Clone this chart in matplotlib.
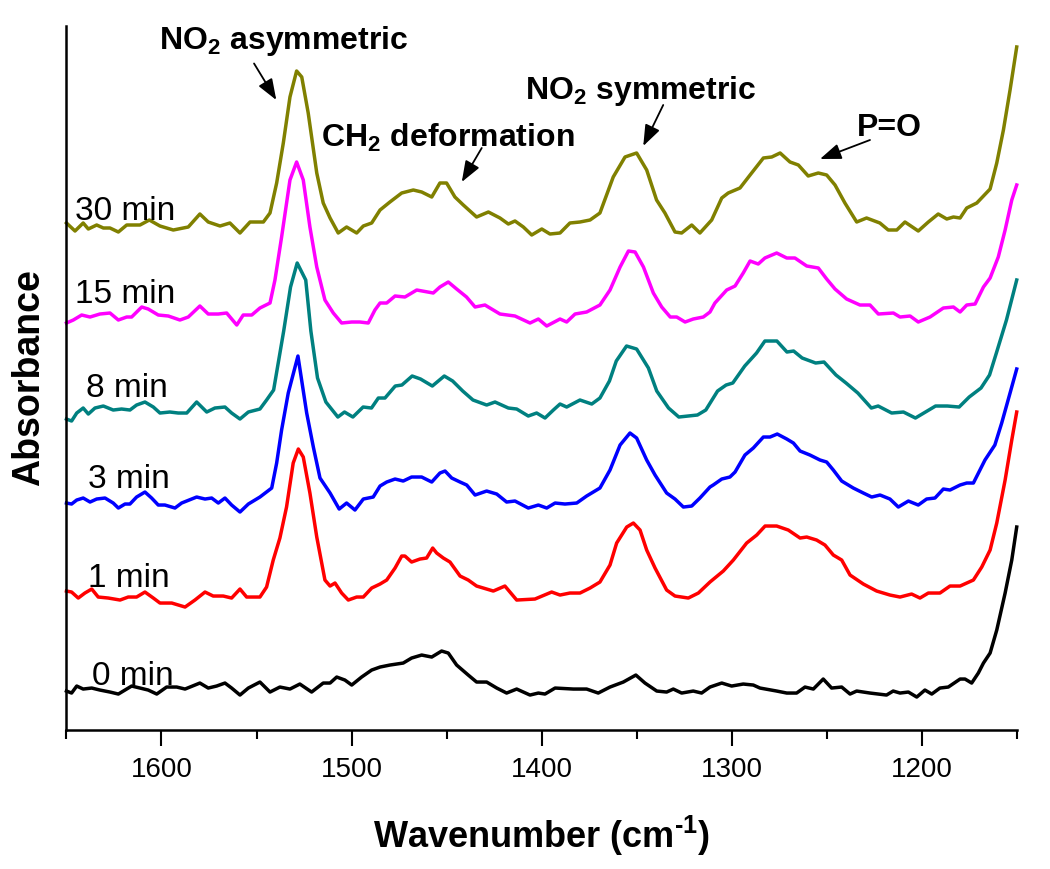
import matplotlib
matplotlib.use("Agg")
import matplotlib.pyplot as plt
from matplotlib.ticker import MultipleLocator

plt.rcParams['font.family'] = ['Liberation Sans', 'DejaVu Sans']
plt.rcParams['mathtext.fontset'] = 'custom'
plt.rcParams['mathtext.rm'] = 'Liberation Sans:bold'
plt.rcParams['mathtext.bf'] = 'Liberation Sans:bold'
plt.rcParams['mathtext.it'] = 'Liberation Sans:italic'

# ---------------- data (wavenumber cm^-1, absorbance a.u., offset-stacked) ----------------
wn_0 = [1650.0, 1647.3, 1644.6, 1641.2, 1636.7, 1632.4, 1627.1, 1622.7, 1615.7, 1611.3, 1607.0, 1602.5,
        1597.3, 1592.0, 1587.6, 1579.8, 1575.4, 1571.0, 1566.6, 1563.1, 1558.7, 1554.3, 1548.2, 1542.9,
        1537.7, 1532.4, 1527.2, 1521.0, 1514.9, 1511.3, 1507.8, 1503.5, 1499.9, 1494.7, 1489.4, 1485.0,
        1479.8, 1472.8, 1468.4, 1463.1, 1457.8, 1452.6, 1449.1, 1444.7, 1438.6, 1434.2, 1428.9, 1423.6,
        1418.4, 1413.1, 1406.1, 1401.7, 1398.2, 1392.9, 1383.3, 1376.3, 1370.2, 1364.0, 1357.0, 1350.4,
        1345.6, 1339.4, 1334.2, 1330.7, 1326.3, 1320.2, 1315.8, 1311.4, 1305.2, 1300.0, 1293.9, 1288.6,
        1285.1, 1276.3, 1271.0, 1265.8, 1261.4, 1257.0, 1251.8, 1247.4, 1242.1, 1237.7, 1234.2, 1227.2,
        1218.5, 1215.0, 1211.4, 1207.0, 1202.6, 1198.3, 1194.7, 1190.4, 1186.0, 1179.8, 1177.2, 1173.7,
        1170.2, 1167.5, 1164.0, 1160.5, 1156.1, 1152.6, 1150.0]
abs_0 = [0.039, 0.037, 0.044, 0.041, 0.042, 0.040, 0.038, 0.036, 0.044, 0.042, 0.040, 0.036,
         0.043, 0.043, 0.041, 0.047, 0.042, 0.044, 0.047, 0.042, 0.035, 0.042, 0.048, 0.038,
         0.043, 0.041, 0.046, 0.038, 0.047, 0.047, 0.053, 0.050, 0.045, 0.053, 0.060, 0.063,
         0.065, 0.067, 0.072, 0.075, 0.073, 0.079, 0.077, 0.065, 0.055, 0.048, 0.048, 0.042,
         0.037, 0.041, 0.035, 0.037, 0.036, 0.042, 0.041, 0.041, 0.037, 0.043, 0.048, 0.055,
         0.047, 0.039, 0.038, 0.041, 0.037, 0.039, 0.037, 0.043, 0.047, 0.044, 0.046, 0.045,
         0.042, 0.039, 0.037, 0.037, 0.043, 0.041, 0.051, 0.042, 0.043, 0.036, 0.039, 0.037,
         0.035, 0.039, 0.037, 0.038, 0.033, 0.040, 0.036, 0.042, 0.043, 0.051, 0.051, 0.047,
         0.057, 0.067, 0.077, 0.100, 0.137, 0.170, 0.203]

wn_1 = [1650.0, 1647.3, 1643.8, 1640.3, 1636.7, 1633.3, 1628.0, 1621.8, 1617.5, 1613.1, 1608.7, 1604.3,
        1600.8, 1594.6, 1587.6, 1582.4, 1577.1, 1572.8, 1567.5, 1563.1, 1558.7, 1555.2, 1548.2, 1544.7,
        1541.2, 1537.7, 1534.2, 1530.7, 1528.0, 1525.4, 1521.9, 1518.3, 1514.0, 1511.3, 1508.7, 1505.2,
        1501.7, 1497.3, 1493.8, 1489.4, 1485.0, 1481.5, 1477.1, 1473.6, 1471.9, 1468.4, 1464.0, 1460.5,
        1457.3, 1455.2, 1451.7, 1448.2, 1442.9, 1438.6, 1434.2, 1425.4, 1419.3, 1413.1, 1403.5, 1394.7,
        1390.3, 1385.1, 1379.8, 1374.5, 1369.3, 1364.0, 1360.5, 1355.2, 1351.7, 1348.2, 1344.7, 1340.3,
        1334.2, 1329.8, 1322.8, 1317.5, 1311.4, 1304.4, 1299.1, 1292.1, 1286.8, 1282.4, 1276.3, 1270.2,
        1264.0, 1260.5, 1255.3, 1250.9, 1246.5, 1242.1, 1237.7, 1230.7, 1223.7, 1216.7, 1211.4, 1205.3,
        1200.9, 1196.5, 1190.4, 1185.1, 1179.8, 1172.8, 1168.4, 1164.0, 1160.5, 1156.1, 1152.6, 1150.0]
abs_1 = [0.139, 0.138, 0.132, 0.137, 0.141, 0.133, 0.132, 0.130, 0.133, 0.133, 0.138, 0.132,
         0.127, 0.127, 0.123, 0.130, 0.138, 0.134, 0.134, 0.132, 0.141, 0.133, 0.133, 0.143,
         0.170, 0.192, 0.223, 0.267, 0.281, 0.273, 0.237, 0.193, 0.150, 0.144, 0.147, 0.137,
         0.130, 0.133, 0.133, 0.142, 0.146, 0.150, 0.162, 0.174, 0.174, 0.168, 0.171, 0.172,
         0.182, 0.177, 0.172, 0.168, 0.154, 0.150, 0.144, 0.139, 0.144, 0.130, 0.131, 0.138,
         0.135, 0.137, 0.137, 0.142, 0.148, 0.165, 0.187, 0.203, 0.207, 0.200, 0.180, 0.162,
         0.140, 0.134, 0.132, 0.137, 0.148, 0.159, 0.170, 0.187, 0.195, 0.204, 0.204, 0.200,
         0.192, 0.193, 0.190, 0.185, 0.175, 0.170, 0.155, 0.146, 0.139, 0.135, 0.133, 0.136,
         0.132, 0.137, 0.137, 0.144, 0.144, 0.150, 0.163, 0.180, 0.207, 0.250, 0.290, 0.318]

wn_3 = [1650.0, 1647.3, 1644.6, 1641.2, 1637.6, 1634.1, 1629.7, 1625.4, 1622.7, 1619.2, 1616.6, 1613.1,
        1608.7, 1605.2, 1601.7, 1598.2, 1592.9, 1589.4, 1581.5, 1577.1, 1573.6, 1570.1, 1566.6, 1563.1,
        1558.7, 1554.3, 1548.2, 1542.0, 1539.4, 1536.8, 1533.3, 1528.2, 1523.6, 1520.1, 1516.6, 1511.3,
        1506.5, 1502.6, 1498.2, 1493.8, 1488.6, 1485.0, 1481.5, 1477.1, 1472.8, 1468.4, 1463.1, 1457.8,
        1453.5, 1450.8, 1447.3, 1442.9, 1439.4, 1435.0, 1428.9, 1423.6, 1418.4, 1414.0, 1407.0, 1401.7,
        1397.3, 1392.9, 1387.7, 1381.5, 1376.3, 1369.3, 1364.0, 1358.7, 1353.5, 1350.0, 1344.7, 1340.3,
        1334.2, 1329.8, 1325.4, 1321.0, 1316.7, 1311.4, 1309.7, 1305.2, 1300.9, 1298.2, 1293.0, 1288.6,
        1283.3, 1279.8, 1276.0, 1271.0, 1267.5, 1264.0, 1258.8, 1253.5, 1250.0, 1246.5, 1242.1, 1236.0,
        1230.7, 1226.3, 1221.9, 1216.7, 1212.3, 1207.0, 1201.8, 1197.4, 1193.0, 1188.6, 1185.1, 1179.8,
        1176.3, 1172.8, 1166.7, 1161.5, 1157.9, 1153.5, 1150.0]
abs_3 = [0.227, 0.226, 0.230, 0.232, 0.228, 0.231, 0.232, 0.227, 0.222, 0.226, 0.226, 0.233,
         0.238, 0.232, 0.225, 0.225, 0.222, 0.227, 0.233, 0.231, 0.232, 0.227, 0.232, 0.225,
         0.218, 0.226, 0.233, 0.242, 0.267, 0.300, 0.337, 0.374, 0.317, 0.283, 0.252, 0.237,
         0.221, 0.227, 0.220, 0.231, 0.233, 0.244, 0.248, 0.251, 0.249, 0.253, 0.253, 0.248,
         0.257, 0.259, 0.252, 0.248, 0.245, 0.235, 0.239, 0.236, 0.228, 0.229, 0.222, 0.225,
         0.222, 0.227, 0.226, 0.227, 0.234, 0.242, 0.260, 0.285, 0.297, 0.292, 0.270, 0.255,
         0.237, 0.231, 0.223, 0.224, 0.232, 0.243, 0.245, 0.251, 0.253, 0.258, 0.275, 0.282,
         0.293, 0.293, 0.296, 0.291, 0.287, 0.279, 0.275, 0.270, 0.268, 0.260, 0.249, 0.242,
         0.237, 0.233, 0.235, 0.231, 0.223, 0.229, 0.225, 0.231, 0.232, 0.241, 0.240, 0.245,
         0.247, 0.247, 0.270, 0.285, 0.307, 0.337, 0.361]

wn_8 = [1650.0, 1647.3, 1644.6, 1641.2, 1638.5, 1635.0, 1630.6, 1625.4, 1621.0, 1616.6, 1613.1, 1608.7,
        1604.3, 1600.8, 1595.6, 1591.2, 1586.7, 1581.5, 1576.2, 1571.9, 1566.6, 1563.1, 1558.7, 1554.3,
        1548.2, 1544.7, 1541.0, 1535.7, 1532.1, 1528.6, 1524.1, 1521.4, 1517.9, 1513.5, 1507.2, 1503.7,
        1499.3, 1493.9, 1489.5, 1485.9, 1482.4, 1477.0, 1473.5, 1468.1, 1463.7, 1457.5, 1451.2, 1446.8,
        1441.5, 1436.1, 1428.9, 1424.5, 1417.5, 1413.1, 1407.0, 1402.6, 1398.2, 1393.8, 1390.3, 1386.8,
        1379.8, 1373.6, 1369.3, 1364.3, 1360.7, 1355.3, 1350.0, 1343.8, 1339.4, 1333.2, 1327.8, 1318.0,
        1313.6, 1307.4, 1302.9, 1299.4, 1293.1, 1286.9, 1282.5, 1276.2, 1270.9, 1267.4, 1262.9, 1255.8,
        1251.4, 1245.1, 1239.8, 1233.6, 1226.5, 1222.9, 1215.8, 1209.6, 1203.3, 1192.7, 1186.5, 1180.3,
        1175.0, 1168.8, 1164.3, 1160.7, 1155.4, 1150.0]
abs_8 = [0.311, 0.309, 0.317, 0.322, 0.316, 0.322, 0.324, 0.320, 0.321, 0.320, 0.325, 0.328,
         0.323, 0.317, 0.318, 0.317, 0.317, 0.328, 0.318, 0.322, 0.323, 0.317, 0.311, 0.318,
         0.321, 0.330, 0.340, 0.399, 0.443, 0.467, 0.450, 0.399, 0.352, 0.328, 0.313, 0.318,
         0.313, 0.323, 0.322, 0.332, 0.332, 0.344, 0.345, 0.354, 0.351, 0.344, 0.354, 0.349,
         0.339, 0.330, 0.325, 0.328, 0.322, 0.321, 0.314, 0.317, 0.312, 0.320, 0.326, 0.323,
         0.330, 0.326, 0.332, 0.349, 0.369, 0.384, 0.381, 0.362, 0.339, 0.322, 0.313, 0.315,
         0.320, 0.339, 0.345, 0.347, 0.364, 0.377, 0.389, 0.389, 0.378, 0.379, 0.372, 0.367,
         0.368, 0.355, 0.347, 0.337, 0.322, 0.324, 0.317, 0.318, 0.312, 0.324, 0.324, 0.323,
         0.333, 0.342, 0.355, 0.377, 0.410, 0.450]

wn_15 = [1650.0, 1646.4, 1642.0, 1637.6, 1632.4, 1627.1, 1622.7, 1618.3, 1615.7, 1610.4, 1607.0, 1601.7,
         1596.4, 1590.3, 1585.9, 1579.8, 1575.4, 1570.1, 1565.7, 1560.4, 1557.0, 1552.5, 1548.2, 1542.9,
         1540.3, 1536.8, 1532.4, 1528.9, 1525.4, 1521.9, 1518.3, 1514.0, 1509.6, 1505.2, 1499.9, 1495.6,
         1491.2, 1487.7, 1485.0, 1481.5, 1477.1, 1471.9, 1465.7, 1457.0, 1453.5, 1449.1, 1444.7, 1439.5,
         1435.0, 1429.8, 1421.9, 1414.0, 1406.1, 1401.7, 1397.3, 1390.3, 1386.8, 1382.4, 1376.3, 1369.3,
         1364.0, 1358.7, 1354.3, 1350.8, 1346.4, 1341.2, 1336.8, 1332.3, 1328.9, 1324.5, 1320.2, 1314.9,
         1311.4, 1308.8, 1302.6, 1298.2, 1293.9, 1290.3, 1286.0, 1282.5, 1276.3, 1271.0, 1266.7, 1260.5,
         1254.4, 1250.0, 1245.6, 1239.5, 1232.5, 1227.2, 1222.8, 1214.9, 1211.4, 1206.1, 1201.8, 1195.6,
         1188.6, 1183.3, 1179.8, 1176.3, 1171.9, 1167.5, 1164.0, 1159.7, 1156.1, 1152.6, 1150.0]
abs_15 = [0.407, 0.410, 0.415, 0.413, 0.416, 0.417, 0.410, 0.413, 0.413, 0.423, 0.421, 0.415,
          0.414, 0.410, 0.413, 0.424, 0.416, 0.416, 0.417, 0.405, 0.415, 0.415, 0.422, 0.427,
          0.450, 0.493, 0.550, 0.568, 0.550, 0.503, 0.463, 0.430, 0.417, 0.407, 0.408, 0.408,
          0.407, 0.420, 0.427, 0.427, 0.434, 0.433, 0.440, 0.437, 0.443, 0.448, 0.441, 0.433,
          0.423, 0.425, 0.416, 0.414, 0.407, 0.411, 0.404, 0.411, 0.408, 0.416, 0.418, 0.425,
          0.440, 0.463, 0.479, 0.478, 0.463, 0.437, 0.423, 0.413, 0.413, 0.408, 0.411, 0.413,
          0.418, 0.427, 0.440, 0.444, 0.457, 0.469, 0.466, 0.472, 0.477, 0.472, 0.472, 0.464,
          0.462, 0.451, 0.441, 0.431, 0.425, 0.425, 0.416, 0.417, 0.413, 0.414, 0.408, 0.413,
          0.422, 0.423, 0.418, 0.425, 0.426, 0.443, 0.452, 0.473, 0.500, 0.530, 0.545]

wn_30 = [1650.0, 1645.5, 1641.2, 1638.5, 1634.1, 1630.6, 1627.1, 1622.7, 1618.3, 1611.3, 1606.4, 1600.8,
         1593.8, 1585.9, 1579.8, 1575.4, 1569.2, 1564.0, 1558.7, 1553.4, 1546.4, 1542.9, 1539.4, 1535.9,
         1532.4, 1528.9, 1526.2, 1522.8, 1518.3, 1514.9, 1511.3, 1507.0, 1502.6, 1497.3, 1493.8, 1489.4,
         1485.0, 1479.8, 1473.6, 1467.5, 1463.1, 1457.8, 1453.5, 1450.0, 1445.6, 1441.2, 1434.2, 1428.0,
         1421.9, 1417.5, 1414.0, 1409.6, 1405.2, 1399.9, 1395.6, 1390.3, 1385.1, 1379.8, 1374.5, 1369.3,
         1362.3, 1356.1, 1350.0, 1344.7, 1339.5, 1335.1, 1329.8, 1326.3, 1321.0, 1316.7, 1310.5, 1305.2,
         1301.8, 1295.6, 1290.3, 1283.3, 1278.9, 1274.5, 1269.3, 1264.9, 1259.7, 1254.4, 1250.0, 1245.6,
         1240.4, 1234.2, 1229.0, 1222.0, 1217.6, 1213.1, 1208.8, 1201.8, 1196.5, 1191.3, 1186.8, 1183.3,
         1179.8, 1176.3, 1171.0, 1167.5, 1164.0, 1160.5, 1157.0, 1153.5, 1150.0]
abs_30 = [0.507, 0.499, 0.507, 0.501, 0.505, 0.502, 0.502, 0.498, 0.505, 0.505, 0.510, 0.504,
          0.500, 0.503, 0.516, 0.508, 0.504, 0.507, 0.497, 0.508, 0.508, 0.517, 0.547, 0.587,
          0.633, 0.659, 0.653, 0.617, 0.557, 0.527, 0.512, 0.497, 0.503, 0.497, 0.504, 0.507,
          0.520, 0.528, 0.537, 0.540, 0.538, 0.533, 0.547, 0.547, 0.533, 0.525, 0.513, 0.518,
          0.512, 0.506, 0.509, 0.503, 0.495, 0.501, 0.496, 0.497, 0.507, 0.508, 0.510, 0.517,
          0.553, 0.573, 0.577, 0.560, 0.530, 0.517, 0.498, 0.497, 0.505, 0.497, 0.510, 0.532,
          0.537, 0.542, 0.555, 0.572, 0.573, 0.577, 0.568, 0.565, 0.554, 0.557, 0.555, 0.545,
          0.527, 0.508, 0.512, 0.507, 0.500, 0.500, 0.508, 0.499, 0.508, 0.516, 0.511, 0.513,
          0.512, 0.522, 0.527, 0.534, 0.541, 0.567, 0.600, 0.640, 0.683]

series_names = ['0 min', '1 min', '3 min', '8 min', '15 min', '30 min']
series_colors = ['#000000', '#FF0000', '#0000FF', '#008080', '#FF00FF', '#808000']
label_wn = [1636.7, 1638.5, 1638.5, 1639.7, 1645.5, 1645.5]
label_abs = [0.045, 0.143, 0.242, 0.333, 0.427, 0.510]

tick_values = [1600, 1500, 1400, 1300, 1200]

# annotations: text, text position, arrow tail, arrow head
ann_texts = [r'NO$_\mathbf{2}$ asymmetric', r'CH$_\mathbf{2}$ deformation',
             r'NO$_\mathbf{2}$ symmetric', 'P=O']
ann_text_pos = [(1601.3, 0.681), (1516.1, 0.583), (1408.7, 0.631), (1234.2, 0.594)]
ann_tail = [(1551.3, 0.6665), (1431.5, 0.582), (1336.0, 0.625), (1227.2, 0.590)]
ann_head = [(1539.6, 0.630), (1442.0, 0.548), (1346.5, 0.584), (1253.5, 0.571)]

# ---------------- figure ----------------
fig = plt.figure(figsize=(10.5, 8.69), dpi=100)
ax = fig.add_axes([0.0633, 0.1599, 0.9050, 0.8102])

wns = [wn_0, wn_1, wn_3, wn_8, wn_15, wn_30]
absd = [abs_0, abs_1, abs_3, abs_8, abs_15, abs_30]
for w, a, c in zip(wns, absd, series_colors):
    ax.plot(w, a, color=c, lw=2.5, solid_joinstyle='round', clip_on=False)

for name, lx, ly in zip(series_names, label_wn, label_abs):
    ax.text(lx, ly, name, fontsize=24, ha='left', va='baseline', color='black')

for t, tp, tail, head in zip(ann_texts, ann_text_pos, ann_tail, ann_head):
    ax.text(tp[0], tp[1], t, fontsize=23, fontweight='bold', ha='left', va='baseline')
    ax.annotate('', xy=head, xytext=tail,
                arrowprops=dict(arrowstyle='-|>,head_length=0.8,head_width=0.3',
                                color='black', lw=1.3, shrinkA=0, shrinkB=0,
                                mutation_scale=16))

ax.set_xlim(1650, 1150)
ax.set_ylim(0, 0.704)
ax.xaxis.set_major_locator(MultipleLocator(100))
ax.xaxis.set_minor_locator(MultipleLocator(50))
ax.set_xticks(tick_values)
ax.set_xticklabels([str(v) for v in tick_values])
ax.tick_params(axis='x', which='major', direction='out', length=11.5, width=1.5,
               labelsize=20, pad=8)
ax.tick_params(axis='x', which='minor', direction='out', length=6.5, width=1.5)
ax.set_yticks([])
for s in ['top', 'right']:
    ax.spines[s].set_visible(False)
for s in ['left', 'bottom']:
    ax.spines[s].set_linewidth(1.8)

ax.set_xlabel(r'Wavenumber (cm$^{\text{-}\mathbf{1}}$)', fontsize=26, fontweight='bold', labelpad=22)
ax.set_ylabel('Absorbance', fontsize=27, fontweight='bold', labelpad=14)

fig.savefig('out.png', dpi=100)
